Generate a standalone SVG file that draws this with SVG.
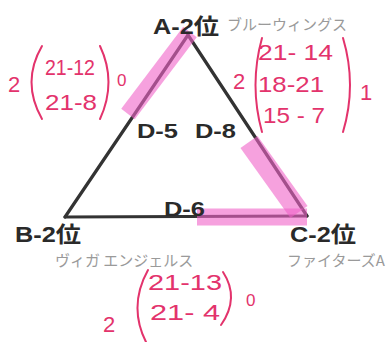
<svg xmlns="http://www.w3.org/2000/svg" width="390" height="342" viewBox="0 0 390 342">
<style>
.lbl{font-family:"Liberation Sans","Noto Sans CJK JP",sans-serif;font-weight:bold;font-size:22px;fill:#2a2a2a}
.d{font-family:"Liberation Sans",sans-serif;font-weight:bold;font-size:21px;fill:#2a2a2a}
.team{font-family:"Noto Sans CJK JP",sans-serif;font-size:15px;fill:#9a9a9a}
.sc{font-family:"Liberation Sans",sans-serif;font-size:22px;fill:#e3336c}
.par{fill:none;stroke:#e3336c;stroke-width:2;stroke-linecap:round}
.edge{stroke:#333;stroke-width:3.2;fill:none;stroke-linecap:round}
.hl{stroke:#f062c8;stroke-opacity:0.6;fill:none;stroke-linecap:butt}
</style>
<rect width="390" height="342" fill="#fff"/>
<g id="connectors">
<line class="edge" x1="188" y1="35" x2="65" y2="217"/>
<line class="edge" x1="188" y1="35" x2="307" y2="216"/>
<line class="edge" x1="65" y1="217" x2="307" y2="216"/>
</g>
<g id="highlights">
<line class="hl" stroke-width="17" x1="128" y1="114" x2="190" y2="32"/>
<line class="hl" stroke-width="21" x1="249" y1="142" x2="299" y2="212"/>
<line class="hl" stroke-width="17" x1="197" y1="217" x2="307" y2="217"/>
</g>
<g id="edge-labels">
<text class="d" x="137" y="138" textLength="41" lengthAdjust="spacingAndGlyphs">D-5</text>
<text class="d" x="195" y="138" textLength="41" lengthAdjust="spacingAndGlyphs">D-8</text>
<text class="d" x="164" y="216" textLength="41" lengthAdjust="spacingAndGlyphs">D-6</text>
</g>
<g id="node-A">
<text class="lbl" x="153" y="34" textLength="66" lengthAdjust="spacingAndGlyphs">A-2位</text>
<text class="team" x="227" y="30">ブルーウィングス</text>
</g>
<g id="node-B">
<text class="lbl" x="15" y="242" textLength="66" lengthAdjust="spacingAndGlyphs">B-2位</text>
<text class="team" x="55" y="266">ヴィガ エンジェルス</text>
</g>
<g id="node-C">
<text class="lbl" x="290" y="242" textLength="66" lengthAdjust="spacingAndGlyphs">C-2位</text>
<text class="team" x="287" y="266">ファイターズA</text>
</g>
<g id="score-AB">
<text class="sc" x="8" y="92">2</text>
<path class="par" d="M42 46 Q21 82 42 119"/>
<text class="sc" x="45" y="75" textLength="50" lengthAdjust="spacingAndGlyphs">21-12</text>
<text class="sc" x="45" y="110" textLength="52" lengthAdjust="spacingAndGlyphs">21-8</text>
<path class="par" d="M100 46 Q117 82 100 119"/>
<text class="sc" x="117" y="86" style="font-size:17px">0</text>
</g>
<g id="score-AC">
<text class="sc" x="233" y="89">2</text>
<path class="par" d="M262 38 Q249 85 262 132"/>
<text class="sc" x="258" y="60" textLength="75" lengthAdjust="spacingAndGlyphs">21- 14</text>
<text class="sc" x="258" y="92" textLength="66" lengthAdjust="spacingAndGlyphs">18-21</text>
<text class="sc" x="263" y="123" textLength="62" lengthAdjust="spacingAndGlyphs">15 - 7</text>
<path class="par" d="M343 38 Q357 85 343 132"/>
<text class="sc" x="360" y="100">1</text>
</g>
<g id="score-BC">
<text class="sc" x="103" y="332">2</text>
<path class="par" d="M148 270 Q128 306 146 342"/>
<text class="sc" x="148" y="290" textLength="74" lengthAdjust="spacingAndGlyphs">21-13</text>
<text class="sc" x="150" y="320" textLength="70" lengthAdjust="spacingAndGlyphs">21- 4</text>
<path class="par" d="M223 272 Q240 298 221 325"/>
<text class="sc" x="246" y="306" style="font-size:17px">0</text>
</g>
</svg>
